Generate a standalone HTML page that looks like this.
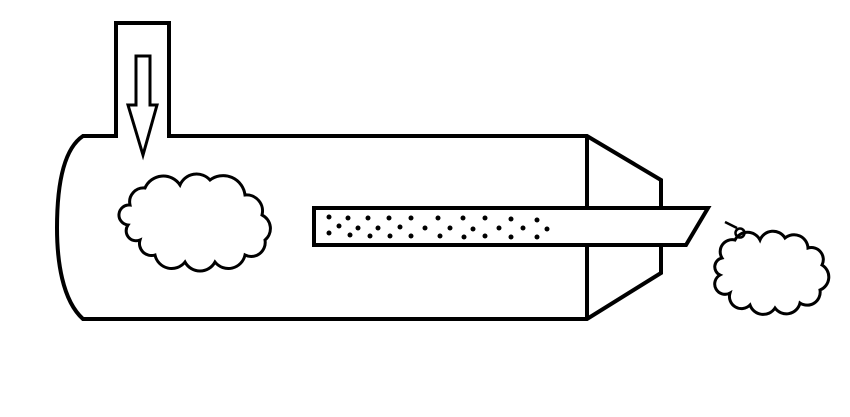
<!DOCTYPE html>
<html><head><style>html,body{margin:0;padding:0;background:#fff}svg{display:block}</style></head>
<body>
<svg width="850" height="417" viewBox="0 0 850 417" xmlns="http://www.w3.org/2000/svg">
<g fill="none" stroke="#000" stroke-width="4" stroke-linejoin="miter">
<path d="M116,136 V23 H169 V136 H587 L661,180 V273 L587,319 H83 C62,300 57,260 57,228 C57,190 62,150 83,136 Z" fill="#fff"/>
<line x1="587" y1="136" x2="587" y2="319"/>
<path d="M314,208 H708 L686,245 H314 Z" fill="#fff"/>
<path d="M136,56 H150 V105 H157 L143,155 L128,105 H136 Z" fill="#fff" stroke-width="3"/>
<path d="M130,205 A14,14 0 0 1 145,188 A20,20 0 0 1 180,185 A18,18 0 0 1 210,180 A22,22 0 0 1 245,195 A16,16 0 0 1 262,215 A15,15 0 0 1 265,240 A14,14 0 0 1 245,255 A17,17 0 0 1 215,262 A17,17 0 0 1 185,262 A17,17 0 0 1 155,255 A12,12 0 0 1 140,240 A10,10 0 0 1 128,225 A10,10 0 0 1 130,205 Z" stroke-width="3"/>
<path d="M722,258 A12,12 0 0 1 735,240 A14,14 0 0 1 760,240 A14,14 0 0 1 785,238 A14,14 0 0 1 808,248 A12,12 0 0 1 822,265 A14,14 0 0 1 820,290 A13,13 0 0 1 800,303 A14,14 0 0 1 775,308 A14,14 0 0 1 750,305 A12,12 0 0 1 730,293 A10,10 0 0 1 720,275 A9,9 0 0 1 722,258 Z" stroke-width="3"/>
<circle cx="740" cy="233" r="4.5" stroke-width="2.5"/>
<path d="M725,222 L737,228" stroke-width="2.5"/>
</g>
<g fill="#000">
<circle cx="329" cy="217" r="2.5"/><circle cx="339" cy="226" r="2.5"/><circle cx="329" cy="233" r="2.5"/>
<circle cx="348" cy="218" r="2.5"/><circle cx="358" cy="228" r="2.5"/><circle cx="350" cy="235" r="2.5"/>
<circle cx="368" cy="218" r="2.5"/><circle cx="378" cy="228" r="2.5"/><circle cx="370" cy="236" r="2.5"/>
<circle cx="389" cy="218" r="2.5"/><circle cx="400" cy="227" r="2.5"/><circle cx="390" cy="236" r="2.5"/>
<circle cx="411" cy="218" r="2.5"/><circle cx="425" cy="228" r="2.5"/><circle cx="411" cy="236" r="2.5"/>
<circle cx="438" cy="218" r="2.5"/><circle cx="450" cy="228" r="2.5"/><circle cx="440" cy="236" r="2.5"/>
<circle cx="463" cy="218" r="2.5"/><circle cx="473" cy="229" r="2.5"/><circle cx="464" cy="237" r="2.5"/>
<circle cx="485" cy="218" r="2.5"/><circle cx="499" cy="228" r="2.5"/><circle cx="485" cy="236" r="2.5"/>
<circle cx="511" cy="219" r="2.5"/><circle cx="523" cy="228" r="2.5"/><circle cx="511" cy="237" r="2.5"/>
<circle cx="537" cy="220" r="2.5"/><circle cx="547" cy="229" r="2.5"/><circle cx="537" cy="237" r="2.5"/>
</g>
</svg>
</body></html>
